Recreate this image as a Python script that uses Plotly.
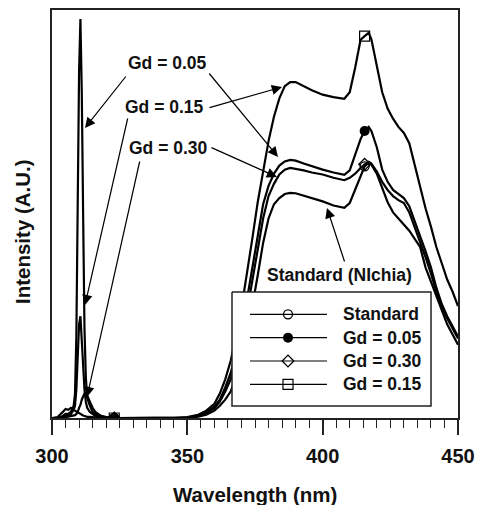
import plotly.graph_objects as go

# ---------------- data ----------------
wavelength = [300, 302, 304, 305, 306, 307, 308, 308.5, 309, 309.5, 310, 310.5, 311, 311.5,
              312, 312.5, 313, 314, 315, 316, 318, 320,
              323, 326, 330, 335, 340, 345,
              350, 354, 357, 360, 362, 364, 366, 368, 370, 372, 374, 376, 378, 380, 382, 384,
              386, 388, 390,
              393, 396, 400, 404, 408, 410, 412, 414, 415.5, 417, 418, 420,
              422, 424, 426, 428, 430, 432, 434, 436, 438, 440, 442, 444, 446, 448, 450]

gd005 = [0, 0, 0.5, 1, 1, 1.5, 3, 6, 20, 50, 85, 98, 80, 50, 22, 10, 5, 3, 1.5, 1, 0.5, 0.2,
         0, 0, 0, 0, 0, 0,
         0.1, 0.6, 1.4, 2.8, 4.5, 7.5, 11, 16, 22, 29, 37, 45, 52.5, 57, 60, 62, 63, 63.4, 63.2,
         62.5, 61.8, 61, 60.3, 59.7, 60.8, 64.5, 68.5, 70.5, 71.5, 70.5, 66.5,
         61, 58, 56, 55, 54, 52, 48.5, 44.5, 41, 37, 32, 28, 25, 22.5, 20]

gd015 = [0, 0, 0.3, 0.5, 0.5, 1, 2, 3, 7, 14, 23, 25, 19, 12, 7, 4, 2.5, 1.5, 1, 0.5, 0.3, 0.1,
         0, 0, 0, 0, 0, 0,
         0.2, 0.8, 1.8, 3.5, 6, 9.5, 14, 20, 27, 35, 44, 53, 61, 68, 74, 78.5, 81.5, 82.5, 82.5,
         81.5, 80.5, 79.4, 78.8, 78.4, 80, 86, 92.9, 93.8, 94.6, 93, 86.5,
         80, 76, 73.5, 71.5, 70, 67.5, 62, 57, 51.5, 47, 42, 38, 34, 31, 27.5]

gd030 = [0, 0, 0, 0.2, 0.3, 0.4, 0.5, 0.7, 1, 1.5, 2.5, 3.2, 4.5, 5.2, 6, 6, 5.5, 4, 2.5, 1.5, 0.5, 0.2,
         0, 0, 0, 0, 0, 0,
         0.1, 0.5, 1.2, 2.4, 4, 6.5, 9.5, 14, 19.5, 26, 33.5, 41.5, 49, 54.5, 57.5, 59.8, 61, 61.4, 61.2,
         60.8, 60.3, 59.8, 59, 58.4, 59, 60, 61.4, 62.3, 62.9, 62.5, 60.5,
         58, 56, 54.5, 53.5, 52.8, 50.5, 47, 43.5, 39.5, 35.5, 31, 27.5, 24.5, 22, 19.5]

standard = [0, 0.2, 1.5, 2.2, 2, 2.5, 2, 1.8, 1.5, 1.2, 1, 0.9, 0.8, 0.6, 0.5, 0.4, 0.3, 0.3, 0.2, 0.2, 0, 0,
            0, 0, 0, 0, 0, 0,
            0, 0.3, 0.8, 1.8, 3, 4.5, 6.5, 10, 14.5, 20, 27, 35, 43, 49, 52.5, 54, 55, 55.3, 55.2,
            54.6, 54, 53.2, 52.2, 51.6, 52.8, 56, 59.5, 61.8, 62.7, 62.2, 60,
            56.5, 53, 50.5, 49, 47.5, 46, 44, 42, 37, 33.5, 29.7, 26, 23, 20.5, 18]

marker_wavelengths = [323, 415.5]
series_names = ["Standard", "Gd = 0.05", "Gd = 0.30", "Gd = 0.15"]
x_tick_values = [300, 350, 400, 450]
x_tick_labels = ["300", "350", "400", "450"]

# ---------------- styles ----------------
FONT = "Liberation Sans, Arial, sans-serif"
BLACK = "#000000"
series = [
    (series_names[0], standard, dict(symbol="circle-open", size=9, color=BLACK, line=dict(width=1.3, color=BLACK))),
    (series_names[1], gd005, dict(symbol="circle", size=10, color=BLACK)),
    (series_names[2], gd030, dict(symbol="diamond-open", size=9, color=BLACK, line=dict(width=1.3, color=BLACK))),
    (series_names[3], gd015, dict(symbol="square-open", size=10, color=BLACK, line=dict(width=1.2, color=BLACK))),
]

fig = go.Figure()
mark_idx = [wavelength.index(w) for w in marker_wavelengths]
for name, vals, mk in series:
    fig.add_trace(go.Scatter(x=wavelength, y=vals, mode="lines", name=name,
                             line=dict(color=BLACK, width=2.2), showlegend=False))
    fig.add_trace(go.Scatter(x=[wavelength[i] for i in mark_idx], y=[vals[i] for i in mark_idx],
                             mode="markers", marker=mk, showlegend=False))

# ---------------- custom legend on overlay pixel axes ----------------
leg_box_x = [232, 431, 431, 232, 232]
leg_box_y = [292, 292, 406, 406, 292]
fig.add_trace(go.Scatter(x=leg_box_x, y=leg_box_y, xaxis="x2", yaxis="y2", mode="lines",
                         fill="toself", fillcolor="white", line=dict(color="#222", width=1.5),
                         showlegend=False, hoverinfo="skip"))
leg_rows = [314.3, 337.7, 361, 384.3]
for (name, vals, mk), ry in zip(series, leg_rows):
    fig.add_trace(go.Scatter(x=[250, 327], y=[ry, ry], xaxis="x2", yaxis="y2", mode="lines",
                             line=dict(color=BLACK, width=1.2), showlegend=False, hoverinfo="skip"))
    fig.add_trace(go.Scatter(x=[288], y=[ry], xaxis="x2", yaxis="y2", mode="markers",
                             marker=mk, showlegend=False, hoverinfo="skip"))

annotations = []
for (name, vals, mk), ry in zip(series, leg_rows):
    annotations.append(dict(x=341, y=ry, xref="x2", yref="y2", text="<b>%s</b>" % name,
                            showarrow=False, xanchor="left", yanchor="middle",
                            font=dict(family=FONT, size=17.5, color="#111")))

# in-plot labels (pixel overlay coords)
labels = [("Gd = 0.05", 167, 63), ("Gd = 0.15", 164, 107), ("Gd = 0.30", 168, 148),
          ("Standard (NIchia)", 339, 275)]
for t, lx, ly in labels:
    annotations.append(dict(x=lx, y=ly, xref="x2", yref="y2", text="<b>%s</b>" % t,
                            showarrow=False, xanchor="center", yanchor="middle",
                            font=dict(family=FONT, size=17.5, color="#111")))

# arrows: (head_x, head_y, tail_x, tail_y) in pixel overlay coords
arrows = [(85, 128, 127, 75), (278, 157, 208, 72),
          (85, 305, 128, 117), (282, 87, 208, 108),
          (87, 397, 140, 160), (277, 177, 210, 147),
          (327, 208, 345, 263)]
for hx, hy, tx, ty in arrows:
    annotations.append(dict(x=hx, y=hy, xref="x2", yref="y2", ax=tx, ay=ty,
                            axref="x2", ayref="y2", text="", showarrow=True,
                            arrowhead=2, arrowsize=1.7, arrowwidth=1.2, arrowcolor=BLACK))

# axis titles (paper coords; plot area spans 52..458 x 10..418 px)
annotations.append(dict(x=0.5, y=0, xref="paper", yref="paper", yshift=-76, text="<b>Wavelength (nm)</b>",
                        showarrow=False, xanchor="center", yanchor="middle",
                        font=dict(family=FONT, size=20.5, color="#111")))
annotations.append(dict(x=0, y=(418 - 232) / 408, xref="paper", yref="paper", xshift=-30,
                        text="<b>Intensity (A.U.)</b>",
                        showarrow=False, textangle=-90, xanchor="center", yanchor="middle",
                        font=dict(family=FONT, size=20.5, color="#111")))

fig.update_layout(
    width=477, height=505, autosize=False,
    margin=dict(l=52, r=19, t=10, b=87, pad=0, autoexpand=False),
    paper_bgcolor="white", plot_bgcolor="white",
    showlegend=False,
    font=dict(family=FONT, color="#111"),
    xaxis=dict(range=[300, 450], tickvals=x_tick_values, ticktext=["<b>%s</b>" % t for t in x_tick_labels],
               ticks="outside", ticklen=15, tickwidth=1.5, tickcolor="#222",
               minor=dict(dtick=5, tick0=300, ticks="outside", ticklen=8, tickwidth=1.2, tickcolor="#222"),
               showgrid=False, zeroline=False, showline=True, linecolor="#222", linewidth=1.5,
               mirror=True, tickfont=dict(family=FONT, size=20, color="#111"), ticklabelstandoff=4,
               automargin=False),
    yaxis=dict(range=[0, 100.2], showticklabels=False, ticks="", showgrid=False, zeroline=False,
               showline=True, linecolor="#222", linewidth=1.5, mirror=True, automargin=False),
    xaxis2=dict(overlaying="x", anchor="y2", range=[52, 458], visible=False, automargin=False),
    yaxis2=dict(overlaying="y", anchor="x2", range=[418, 10], visible=False, automargin=False),
    annotations=annotations,
)

fig.write_html("out.html")
